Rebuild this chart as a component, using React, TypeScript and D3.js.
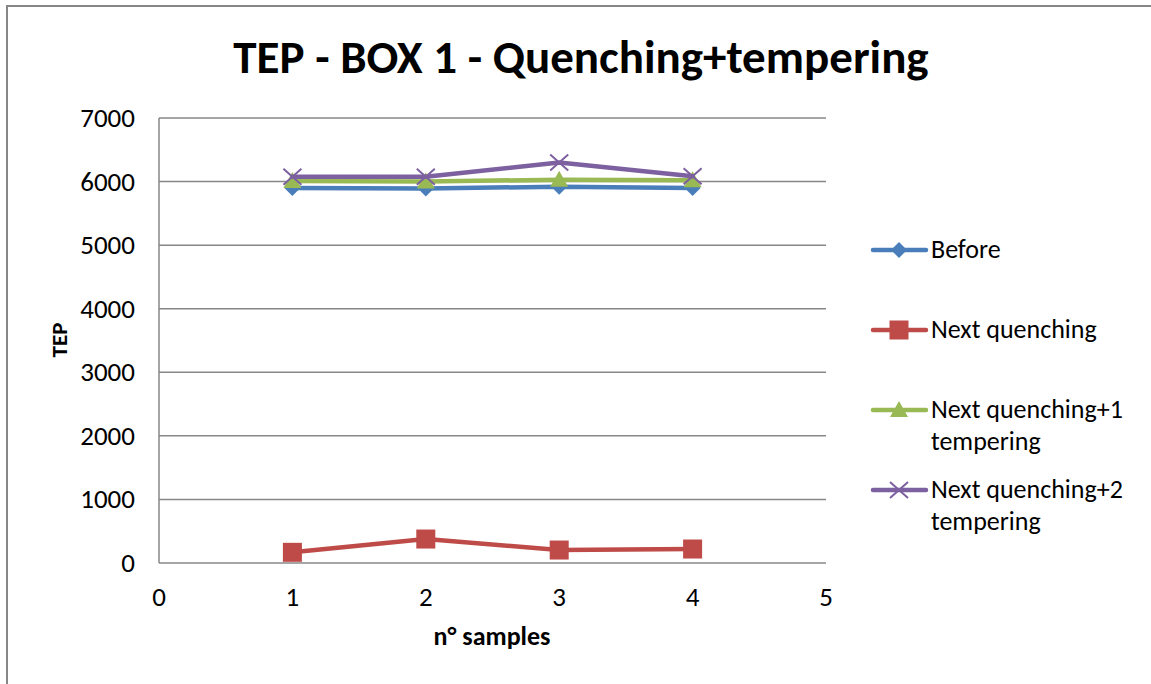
import * as d3 from "d3"
import { useEffect, useRef } from "react"

const samples = [1, 2, 3, 4]
const before = [5900, 5890, 5920, 5900]
const nextQuenching = [168, 377, 204, 220]
const nextQ1Temp = [6010, 6000, 6030, 6020]
const nextQ2Temp = [6075, 6075, 6300, 6085]
const yTicks = [0, 1000, 2000, 3000, 4000, 5000, 6000, 7000]
const xTicks = [0, 1, 2, 3, 4, 5]

const seriesList = [
  { name: ["Before"], values: before, color: "#4A7EBB", marker: "diamond" },
  { name: ["Next quenching"], values: nextQuenching, color: "#BE4B48", marker: "square" },
  { name: ["Next quenching+1", "tempering"], values: nextQ1Temp, color: "#98B954", marker: "triangle" },
  { name: ["Next quenching+2", "tempering"], values: nextQ2Temp, color: "#7D60A0", marker: "x" },
]

const FONT = "Carlito, Calibri, Lato, 'Open Sans', sans-serif"

function App() {
  const ref = useRef<SVGSVGElement>(null)

  useEffect(() => {
    const svg = d3.select(ref.current)
    svg.selectAll("*").remove()

    // outer chart frame, runs off the right and bottom edge
    svg.append("rect")
      .attr("x", 7).attr("y", 6)
      .attr("width", 1200).attr("height", 720)
      .attr("fill", "white")
      .attr("stroke", "#878787").attr("stroke-width", 2)

    const x = d3.scaleLinear().domain([0, 5]).range([159, 826])
    const y = d3.scaleLinear().domain([0, 7000]).range([563, 118])

    // gridlines
    svg.append("g")
      .selectAll("line")
      .data(yTicks)
      .enter()
      .append("line")
        .attr("x1", x(0)).attr("x2", x(5))
        .attr("y1", d => y(d)).attr("y2", d => y(d))
        .attr("stroke", "#878787").attr("stroke-width", 1.5)

    // y axis line
    svg.append("line")
      .attr("x1", x(0)).attr("x2", x(0))
      .attr("y1", y(0)).attr("y2", y(7000))
      .attr("stroke", "#878787").attr("stroke-width", 1.5)

    // tick labels
    svg.append("g")
      .selectAll("text")
      .data(yTicks)
      .enter()
      .append("text")
        .attr("x", 135).attr("y", d => y(d) + 9)
        .attr("text-anchor", "end")
        .style("font-family", FONT).style("font-size", "27px")
        .text(d => d)

    svg.append("g")
      .selectAll("text")
      .data(xTicks)
      .enter()
      .append("text")
        .attr("x", d => x(d)).attr("y", 606)
        .attr("text-anchor", "middle")
        .style("font-family", FONT).style("font-size", "27px")
        .text(d => d)

    // titles
    svg.append("text")
      .attr("x", 581).attr("y", 73)
      .attr("text-anchor", "middle")
      .style("font-family", FONT).style("font-size", "47px").style("font-weight", "bold")
      .text("TEP - BOX 1 - Quenching+tempering")

    svg.append("text")
      .attr("x", 492).attr("y", 645)
      .attr("text-anchor", "middle")
      .style("font-family", FONT).style("font-size", "26px").style("font-weight", "bold")
      .text("n° samples")

    svg.append("text")
      .attr("transform", `translate(67,340) rotate(-90)`)
      .attr("text-anchor", "middle")
      .style("font-family", FONT).style("font-size", "23px").style("font-weight", "bold")
      .text("TEP")

    function drawMarker(g: any, kind: string, cx: number, cy: number, color: string) {
      if (kind === "diamond") {
        g.append("path")
          .attr("d", `M${cx},${cy - 8}L${cx + 8},${cy}L${cx},${cy + 8}L${cx - 8},${cy}Z`)
          .attr("fill", color)
      } else if (kind === "square") {
        g.append("rect")
          .attr("x", cx - 9.5).attr("y", cy - 9.5)
          .attr("width", 19).attr("height", 19)
          .attr("fill", color)
      } else if (kind === "triangle") {
        g.append("path")
          .attr("d", `M${cx},${cy - 9}L${cx + 9},${cy + 7}L${cx - 9},${cy + 7}Z`)
          .attr("fill", color)
      } else {
        g.append("path")
          .attr("d", `M${cx - 9},${cy - 8}L${cx + 9},${cy + 8}M${cx - 9},${cy + 8}L${cx + 9},${cy - 8}`)
          .attr("stroke", color).attr("stroke-width", 2).attr("fill", "none")
      }
    }

    const line = d3.line<number>()
      .x((d, i) => x(samples[i]))
      .y(d => y(d))

    seriesList.forEach(s => {
      const g = svg.append("g")
      g.append("path")
        .datum(s.values)
        .attr("d", line)
        .attr("fill", "none")
        .attr("stroke", s.color)
        .attr("stroke-width", 4.5)
        .attr("stroke-linejoin", "round")
        .attr("stroke-linecap", "round")
      s.values.forEach((v, i) => drawMarker(g, s.marker, x(samples[i]), y(v), s.color))
    })

    // legend
    const legendY = [250, 330, 410, 490]
    seriesList.forEach((s, i) => {
      const g = svg.append("g")
      const ly = legendY[i]
      g.append("line")
        .attr("x1", 873).attr("x2", 926)
        .attr("y1", ly).attr("y2", ly)
        .attr("stroke", s.color).attr("stroke-width", 4.5)
        .attr("stroke-linecap", "round")
      drawMarker(g, s.marker, 899, ly, s.color)
      s.name.forEach((t, j) => {
        g.append("text")
          .attr("x", 931).attr("y", ly + 8 + j * 32)
          .style("font-family", FONT).style("font-size", "26px")
          .text(t)
      })
    })
  }, [])

  return (
    <div style={{ position: "fixed", left: 0, top: 0, width: 1151, height: 684, overflow: "hidden", background: "white" }}>
      <svg ref={ref} width={1151} height={684} style={{ display: "block" }}></svg>
    </div>
  )
}

export default App
